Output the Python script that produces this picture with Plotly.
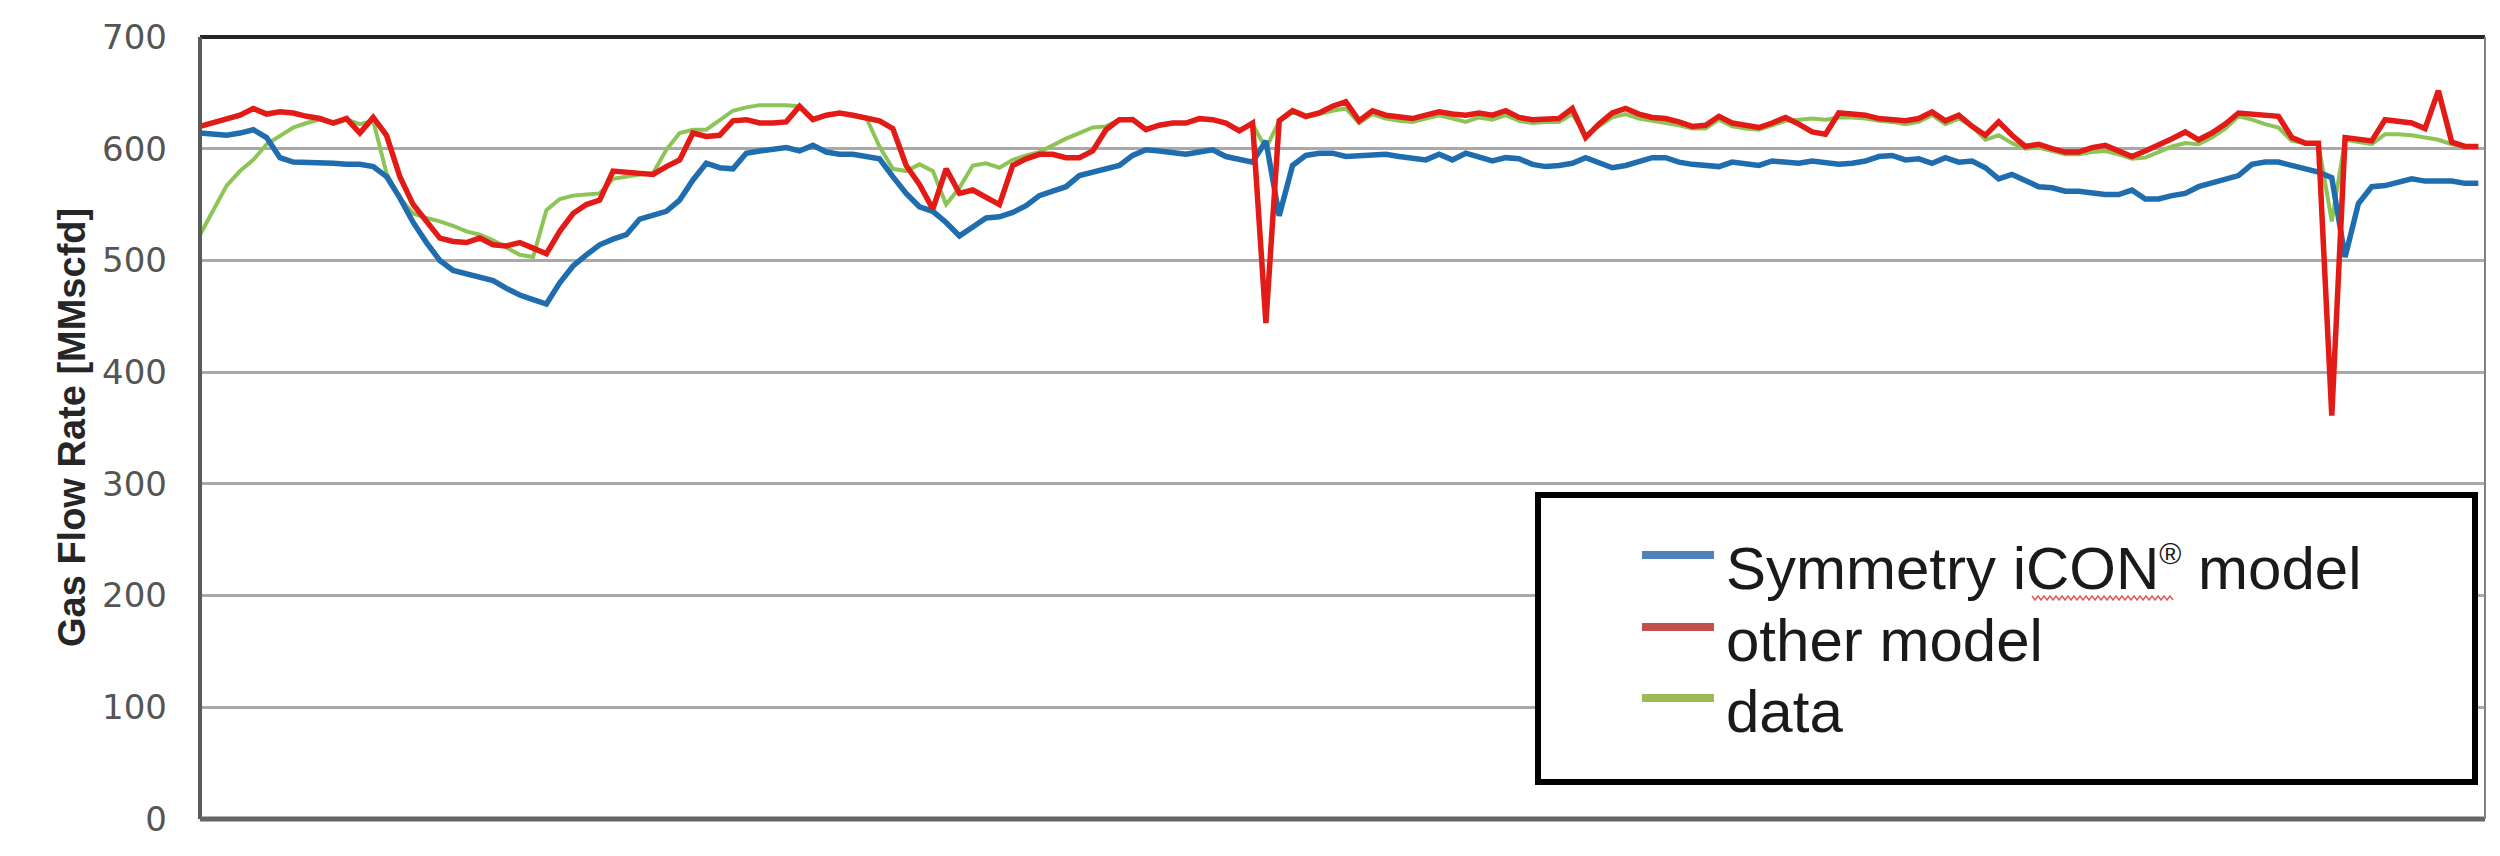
import plotly.graph_objects as go

# sample index along the (unlabelled) time axis
sample = list(range(172))

icon_model = [
    614, 613, 612, 614, 617, 610, 592, 588, 588, 587, 587, 586, 586, 584, 575, 556, 534, 516, 500, 491,
    488, 485, 482, 475, 469, 465, 461, 480, 495, 505, 514, 519, 523, 537, 541, 544, 554, 572, 587, 583,
    582, 596, 598, 599, 601, 598, 603, 597, 595, 595, 593, 591, 575, 560, 548, 544, 534, 522, 530, 538,
    539, 543, 549, 558, 562, 566, 576, 579, 582, 585, 594, 599, 598, 597, 595, 597, 599, 593, 590, 588,
    607, 540, 585, 594, 596, 596, 593, 594, 595, 595, 593, 592, 590, 595, 590, 596, 592, 589, 592, 591,
    586, 584, 585, 587, 592, 588, 583, 585, 589, 592, 592, 588, 586, 585, 584, 588, 587, 585, 589, 588,
    587, 589, 588, 586, 587, 589, 593, 594, 590, 591, 587, 592, 588, 589, 583, 573, 577, 572, 566, 565,
    562, 562, 560, 559, 559, 563, 555, 555, 558, 560, 566, 569, 573, 576, 586, 588, 588, 585, 582, 579,
    574, 503, 551, 566, 567, 570, 573, 571, 571, 571, 569, 569,
]

other_model = [
    620, 623, 626, 630, 636, 631, 633, 632, 629, 627, 623, 627, 614, 628, 612, 575, 550, 535, 520, 517,
    516, 520, 514, 513, 516, 511, 506, 526, 542, 550, 554, 580, 579, 578, 577, 584, 590, 614, 611, 612,
    625, 626, 623, 623, 624, 638, 626, 630, 632, 630, 628, 625, 618, 585, 568, 546, 582, 560, 563, 557,
    550, 585, 591, 595, 595, 592, 592, 598, 617, 626, 626, 617, 621, 623, 623, 627, 626, 623, 616, 623,
    444, 625, 634, 629, 632, 638, 642, 625, 634, 630, 628, 627, 630, 633, 631, 630, 632, 630, 634, 628,
    626, 627, 627, 636, 610, 622, 632, 636, 631, 628, 627, 624, 620, 621, 629, 623, 621, 619, 623, 628,
    622, 615, 613, 632, 631, 630, 627, 626, 625, 627, 633, 625, 630, 620, 612, 624, 612, 602, 604, 600,
    597, 597, 601, 603, 598, 593, 598, 603, 609, 615, 608, 614, 622, 632, 631, 629, 629, 610, 605, 605,
    361, 610, 608, 607, 626, 625, 623, 618, 652, 606, 602, 602,
]

data = [
    523, 545, 567, 580, 590, 604, 612, 619, 623, 626, 624, 626, 622, 625, 578, 556, 542, 538, 535, 531,
    526, 523, 518, 512, 505, 503, 545, 555, 558, 559, 560, 573, 575, 577, 578, 599, 614, 617, 617, 625,
    634, 637, 639, 639, 639, 638, 627, 630, 632, 630, 628, 602, 582, 580, 586, 580, 550, 565, 585, 587,
    583, 590, 594, 597, 603, 609, 614, 619, 620, 626, 627, 618, 621, 623, 623, 626, 626, 623, 617, 622,
    600, 625, 633, 628, 631, 634, 636, 623, 631, 627, 625, 624, 627, 630, 627, 624, 628, 626, 630, 625,
    623, 624, 624, 631, 612, 620, 628, 631, 627, 625, 623, 621, 618, 618, 626, 620, 618, 617, 621, 625,
    626, 627, 626, 628, 628, 627, 625, 624, 622, 624, 630, 622, 627, 620, 608, 612, 605, 600, 601, 598,
    595, 595, 597, 598, 595, 591, 592, 597, 602, 605, 604, 610, 618, 629, 626, 622, 619, 607, 605, 604,
    535, 608, 606, 604, 613, 613, 612, 610, 608, 604, 602, 602,
]

series_names = ["Symmetry iCON<sup><span style='font-size:30px'>®</span></sup> model",
                "other model", "data"]
legend_colors = ["#4F81BD", "#C0504D", "#9BBB59"]
y_ticks = [0, 100, 200, 300, 400, 500, 600, 700]

fig = go.Figure()
fig.add_trace(go.Scatter(x=sample, y=data, mode="lines",
                         line=dict(color="#8CC457", width=4)))
fig.add_trace(go.Scatter(x=sample, y=icon_model, mode="lines",
                         line=dict(color="#1F6DAE", width=5.5)))
fig.add_trace(go.Scatter(x=sample, y=other_model, mode="lines",
                         line=dict(color="#E21B17", width=5.5)))

W, H = 2500, 856
L, R, T, B = 200, 15, 37, 37


# pixel -> paper helpers for the decorations
def px(x):
    return (x - L) / (W - L - R)


def py(y):
    return (H - B - y) / (H - T - B)


fig.update_layout(
    width=W, height=H,
    margin=dict(l=L, r=R, t=T, b=B),
    paper_bgcolor="white", plot_bgcolor="white",
    showlegend=False,
    font=dict(family="Liberation Sans, Arial, sans-serif"),
)
fig.update_xaxes(range=[0, 171.5], showticklabels=False, showgrid=False,
                 zeroline=False, showline=False)
fig.update_yaxes(range=[0, 700], tickvals=y_ticks, showgrid=True,
                 gridcolor="#A9A9A9", gridwidth=3, zeroline=False, showline=False,
                 tickfont=dict(family="DejaVu Sans", size=34, color="#555555"),
                 ticklabelstandoff=32)

# plot frame, Excel style
frame = [
    (0, 1, 1, 1, "#262626", 4),
    (0, 0, 0, 1, "#5a5a5a", 4),
    (0, 0, 1, 0, "#666666", 5),
    (1, 0, 1, 1, "#808080", 2),
]
for x0, y0, x1, y1, c, w in frame:
    fig.add_shape(type="line", xref="paper", yref="paper", x0=x0, y0=y0, x1=x1, y1=y1,
                  line=dict(color=c, width=w))

# y-axis title
fig.add_annotation(xref="paper", yref="paper", x=px(72), y=0.5, text="<b>Gas Flow Rate [MMscfd]</b>",
                   textangle=-90, showarrow=False, xanchor="center", yanchor="middle",
                   font=dict(family="Liberation Sans, Arial", size=38, color="#262626"))

# legend box drawn by hand
fig.add_shape(type="rect", xref="paper", yref="paper",
              x0=px(1538), x1=px(2475), y0=py(782), y1=py(495),
              line=dict(color="black", width=6), fillcolor="white")
rows = [555, 627, 698]
for name, col, ry in zip(series_names, legend_colors, rows):
    fig.add_shape(type="line", xref="paper", yref="paper",
                  x0=px(1642), x1=px(1714), y0=py(ry), y1=py(ry),
                  line=dict(color=col, width=8))
    fig.add_annotation(xref="paper", yref="paper", x=px(1724), y=py(ry + 13),
                       text=name, showarrow=False, xanchor="left", yanchor="middle",
                       font=dict(family="Liberation Sans, Arial", size=60, color="#1a1a1a"))

# spell-check squiggle under "iCON"
pts = []
xx = 2032
k = 0
while xx <= 2174:
    yy = 598 + (2 if k % 2 else -2)
    pts.append(f"{px(xx):.5f},{py(yy):.5f}")
    xx += 3
    k += 1
fig.add_shape(type="path", xref="paper", yref="paper", path="M" + " L".join(pts),
              line=dict(color="#E05A5A", width=1.5))

fig.write_html("out.html", config={"displayModeBar": False},
               post_script="document.body.style.margin='0';document.body.style.overflow='hidden';")
